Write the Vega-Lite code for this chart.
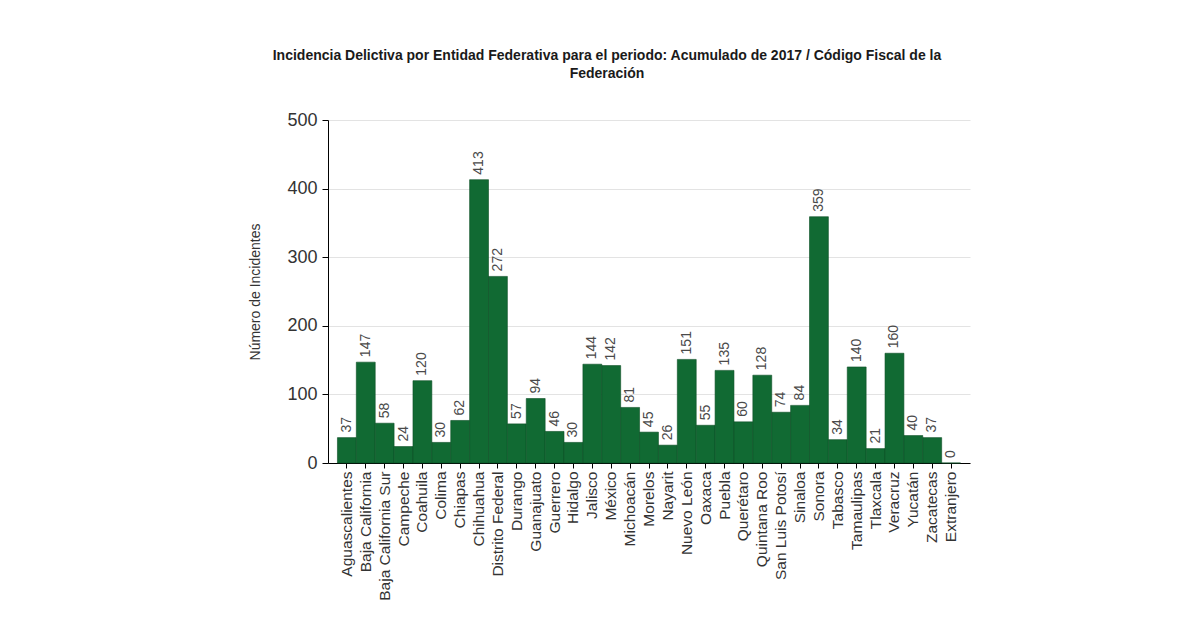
{
  "$schema": "https://vega.github.io/schema/vega-lite/v6.json",
  "width": 642,
  "height": 343,
  "autosize": {"type": "none"},
  "padding": {"left": 328, "top": 120, "right": 218, "bottom": 155},
  "background": "white",
  "title": {
    "text": ["Incidencia Delictiva por Entidad Federativa para el periodo: Acumulado de 2017 / Código Fiscal de la", "Federación"],
    "font": "Liberation Sans",
    "fontSize": 14,
    "fontWeight": "bold",
    "color": "#1a1a1a",
    "anchor": "middle",
    "dx": -42,
    "offset": 30,
    "lineHeight": 18
  },
  "data": {
    "values": [
      {"entidad": "Aguascalientes", "n": 37},
      {"entidad": "Baja California", "n": 147},
      {"entidad": "Baja California Sur", "n": 58},
      {"entidad": "Campeche", "n": 24},
      {"entidad": "Coahuila", "n": 120},
      {"entidad": "Colima", "n": 30},
      {"entidad": "Chiapas", "n": 62},
      {"entidad": "Chihuahua", "n": 413},
      {"entidad": "Distrito Federal", "n": 272},
      {"entidad": "Durango", "n": 57},
      {"entidad": "Guanajuato", "n": 94},
      {"entidad": "Guerrero", "n": 46},
      {"entidad": "Hidalgo", "n": 30},
      {"entidad": "Jalisco", "n": 144},
      {"entidad": "México", "n": 142},
      {"entidad": "Michoacán", "n": 81},
      {"entidad": "Morelos", "n": 45},
      {"entidad": "Nayarit", "n": 26},
      {"entidad": "Nuevo León", "n": 151},
      {"entidad": "Oaxaca", "n": 55},
      {"entidad": "Puebla", "n": 135},
      {"entidad": "Querétaro", "n": 60},
      {"entidad": "Quintana Roo", "n": 128},
      {"entidad": "San Luis Potosí", "n": 74},
      {"entidad": "Sinaloa", "n": 84},
      {"entidad": "Sonora", "n": 359},
      {"entidad": "Tabasco", "n": 34},
      {"entidad": "Tamaulipas", "n": 140},
      {"entidad": "Tlaxcala", "n": 21},
      {"entidad": "Veracruz", "n": 160},
      {"entidad": "Yucatán", "n": 40},
      {"entidad": "Zacatecas", "n": 37},
      {"entidad": "Extranjero", "n": 0}
    ]
  },
  "encoding": {
    "x": {
      "field": "entidad",
      "type": "nominal",
      "sort": null,
      "scale": {"paddingInner": 0, "paddingOuter": 0.5},
      "axis": {
        "title": null,
        "labelAngle": -90,
        "labelFontSize": 15.5,
        "labelFont": "Liberation Sans",
        "labelColor": "#333333",
        "labelPadding": 3,
        "tickSize": 5,
        "tickColor": "#000000",
        "domainColor": "#000000",
        "grid": false
      }
    },
    "y": {
      "field": "n",
      "type": "quantitative",
      "scale": {"domain": [0, 500]},
      "axis": {
        "title": "Número de Incidentes",
        "titleFont": "Liberation Sans",
        "titleFontSize": 14,
        "titleFontWeight": "normal",
        "titleColor": "#333333",
        "titlePadding": 24,
        "values": [0, 100, 200, 300, 400, 500],
        "labelFontSize": 18,
        "labelFont": "Liberation Sans",
        "labelColor": "#333333",
        "labelPadding": 5,
        "tickSize": 6,
        "tickColor": "#000000",
        "domainColor": "#000000",
        "gridColor": "#e3e3e3",
        "grid": true
      }
    }
  },
  "layer": [
    {
      "mark": {"type": "bar", "fill": "#116a33", "stroke": "#0b4f25", "strokeWidth": 0.6}
    },
    {
      "mark": {
        "type": "text",
        "angle": -90,
        "align": "left",
        "baseline": "middle",
        "dx": 5,
        "font": "Liberation Sans",
        "fontSize": 14,
        "color": "#4a4a4a"
      },
      "encoding": {"text": {"field": "n", "type": "quantitative"}}
    }
  ],
  "config": {"view": {"stroke": null}}
}
